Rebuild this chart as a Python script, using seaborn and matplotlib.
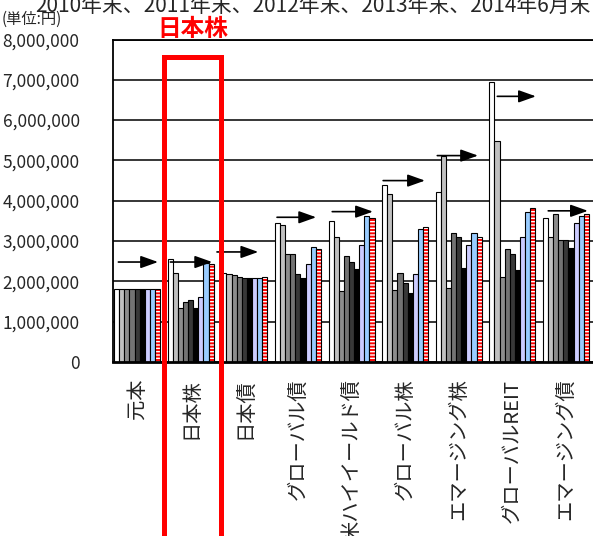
import pandas as pd
import numpy as np
import seaborn as sns
import matplotlib.pyplot as plt
from matplotlib.patches import Rectangle

categories = ["元本", "日本株", "日本債", "グローバル債", "米ハイイールド債",
              "グローバル株", "エマージング株", "グローバルREIT", "エマージング債"]
years = ["2006年末", "2007年末", "2008年末", "2009年末", "2010年末",
         "2011年末", "2012年末", "2013年末", "2014年6月末"]

# values per category, one per year (yen)
v_principal = [1800000] * 9
v_jp_stock = [2560000, 2210000, 1330000, 1490000, 1540000, 1330000, 1620000, 2460000, 2420000]
v_jp_bond = [2200000, 2180000, 2170000, 2120000, 2090000, 2090000, 2080000, 2080000, 2120000]
v_gl_bond = [3460000, 3400000, 2680000, 2680000, 2180000, 2090000, 2430000, 2860000, 2810000]
v_us_hy = [3500000, 3110000, 1750000, 2640000, 2490000, 2310000, 2900000, 3610000, 3570000]
v_gl_stock = [4400000, 4170000, 1790000, 2220000, 1950000, 1720000, 2180000, 3300000, 3340000]
v_em_stock = [4220000, 5100000, 1830000, 3200000, 3110000, 2320000, 2890000, 3190000, 3100000]
v_gl_reit = [6940000, 5490000, 2120000, 2810000, 2680000, 2270000, 3110000, 3710000, 3830000]
v_em_bond = [3570000, 3110000, 3670000, 3030000, 3030000, 2820000, 3450000, 3630000, 3670000]

# arrows (category units, yen)
arrow_x0 = [-0.35, 0.62, 1.49, 2.61, 3.64, 4.59, 5.60, 6.72, 7.67]
arrow_x1 = [0.39, 1.40, 2.26, 3.34, 4.40, 5.37, 6.36, 7.44, 8.41]
arrow_y = [2480000, 2480000, 2730000, 3590000, 3730000, 4500000, 5120000, 6590000, 3750000]

bar_colors = ["#ffffff", "#c0c0c0", "#8c8c8c", "#737373", "#383838",
              "#000000", "#ccccff", "#99ccff", "#ff0000"]

all_vals = [v_principal, v_jp_stock, v_jp_bond, v_gl_bond, v_us_hy,
            v_gl_stock, v_em_stock, v_gl_reit, v_em_bond]
rows = []
for cat, vals in zip(categories, all_vals):
    for yr, v in zip(years, vals):
        rows.append({"cat": cat, "year": yr, "value": v})
df = pd.DataFrame(rows)

sns.set_style("white")
plt.rcParams['font.family'] = ['Noto Sans CJK JP', 'DejaVu Sans']
plt.rcParams['hatch.linewidth'] = 1.0

fig = plt.figure(figsize=(5.93, 5.36), dpi=100)
ax = fig.add_axes([113 / 593, 1 - 362 / 536, 482.4 / 593, (362 - 39.5) / 536])

sns.barplot(data=df, x="cat", y="value", hue="year", order=categories, hue_order=years,
            palette=bar_colors, saturation=1, width=0.858, edgecolor="black",
            linewidth=0.8, legend=False, ax=ax, zorder=2)

# striped red bars for the last year
for p in ax.containers[-1]:
    p.set_facecolor("red")
    p.set_edgecolor("white")
    p.set_hatch("-----")
    p.set_linewidth(0)
    ax.add_patch(Rectangle(p.get_xy(), p.get_width(), p.get_height(), fill=False,
                           edgecolor="black", linewidth=0.8, zorder=3))

for x0, x1, y in zip(arrow_x0, arrow_x1, arrow_y):
    ax.annotate("", xy=(x1, y), xytext=(x0, y),
                arrowprops=dict(arrowstyle="-|>,head_length=0.7,head_width=0.25",
                                mutation_scale=15, color="black", lw=1.2,
                                shrinkA=0, shrinkB=0), zorder=4)

ax.set_ylim(0, 8000000)
ax.set_xlim(-0.45, 8.55)
ax.set_yticks(np.arange(0, 8000001, 1000000))
ax.set_yticklabels([f"{int(t):,}" for t in np.arange(0, 8000001, 1000000)], fontsize=12.5)
ax.yaxis.grid(True, color="black", linewidth=1.1, zorder=0)
ax.set_axisbelow(True)
ax.tick_params(axis="y", length=0, pad=24)
ax.set_xticks(range(len(categories)))
ax.set_xticklabels(categories, rotation=90, fontsize=14.6)
ax.tick_params(axis="x", which="major", length=0, pad=12)
ax.set_xticks(np.arange(0.5, 8.6, 1), minor=True)
ax.tick_params(axis="x", which="minor", direction="in", length=5, width=1, color="black")
ax.set_xlabel("")
ax.set_ylabel("")
for s in ax.spines.values():
    s.set_color("black")
    s.set_linewidth(1.3)
ax.spines["bottom"].set_linewidth(2)

fig.text(35 / 593, 1 - 12 / 536, "2010年末、2011年末、2012年末、2013年末、2014年6月末",
         fontsize=15, va="baseline", ha="left")
fig.text(2 / 593, 1 - 19 / 536, "(単位:円)", fontsize=11, va="center", ha="left")
fig.text(193 / 593, 1 - 29 / 536, "日本株", fontsize=17, fontweight="bold",
         color="red", va="center", ha="center")
fig.patches.append(Rectangle((164 / 593, -0.02), (221 - 164) / 593, (536 - 57) / 536 + 0.02,
                             transform=fig.transFigure, fill=False, edgecolor="red",
                             linewidth=3.6, zorder=10))

fig.savefig("out.png", dpi=100)
